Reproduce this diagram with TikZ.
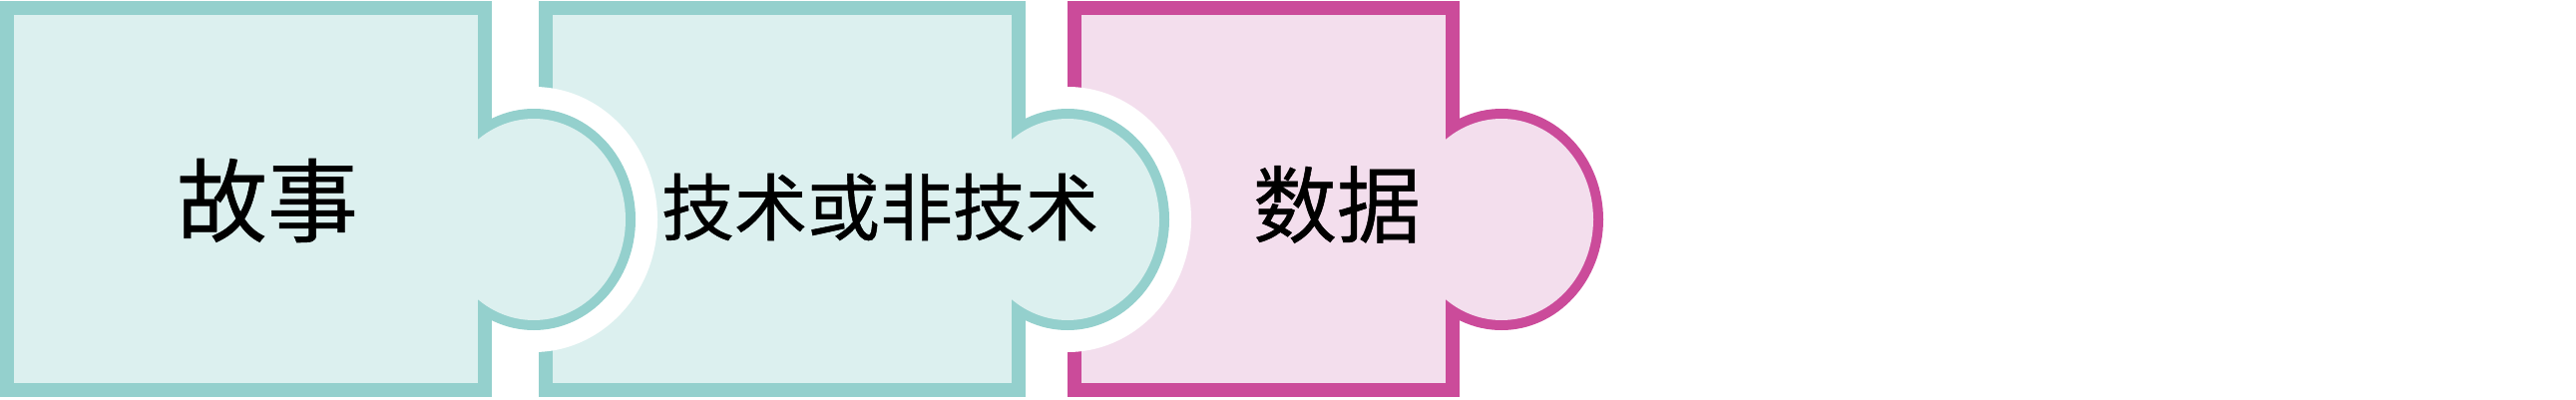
\documentclass[tikz,border=0pt]{standalone}
\usepackage{fontspec}
\newfontfamily\cjk[FakeBold=0.6]{Noto Sans CJK SC}
\definecolor{tealline}{HTML}{94D0CD}
\definecolor{tealfill}{HTML}{DCF0EF}
\definecolor{pinkline}{HTML}{CB4B9A}
\definecolor{pinkfill}{HTML}{F3DEED}
\tikzset{
  label/.style={inner sep=0pt, font=\cjk, text=black},
}
% #1 left, #2 right, #3 line colour, #4 fill colour
\newcommand{\puzzlepiece}[4]{%
  \fill[#3] (#1,2) rectangle (#2,399);
  \fill[#3] (#2+42,180) ellipse [x radius=102, y radius=111];
  \fill[#4] (#1+14,16) rectangle (#2-14,385);
  \fill[#4] (#2+42,180) ellipse [x radius=92, y radius=101];
}
\newcommand{\halo}[1]{%
  \fill[white] (#1+42,180) ellipse [x radius=124, y radius=133];
}
\begin{document}
\begin{tikzpicture}[x=1pt,y=1pt]
\useasboundingbox (0,0) rectangle (2582,400);
\fill[white] (0,0) rectangle (2582,400);
% piece 3
\puzzlepiece{1070}{1463}{pinkline}{pinkfill}
% piece 2
\halo{1028}
\puzzlepiece{540}{1028}{tealline}{tealfill}
% piece 1
\halo{493}
\puzzlepiece{0}{493}{tealline}{tealfill}
% labels
\node[label, font=\cjk\fontsize{91}{91}\selectfont] (story) at (268,199) {故事};
\node[label, font=\cjk\fontsize{73}{73}\selectfont] (tech) at (882,192.5) {技术或非技术};
\node[label, font=\cjk\fontsize{84}{84}\selectfont] (data) at (1340,195) {数据};
\end{tikzpicture}
\end{document}
